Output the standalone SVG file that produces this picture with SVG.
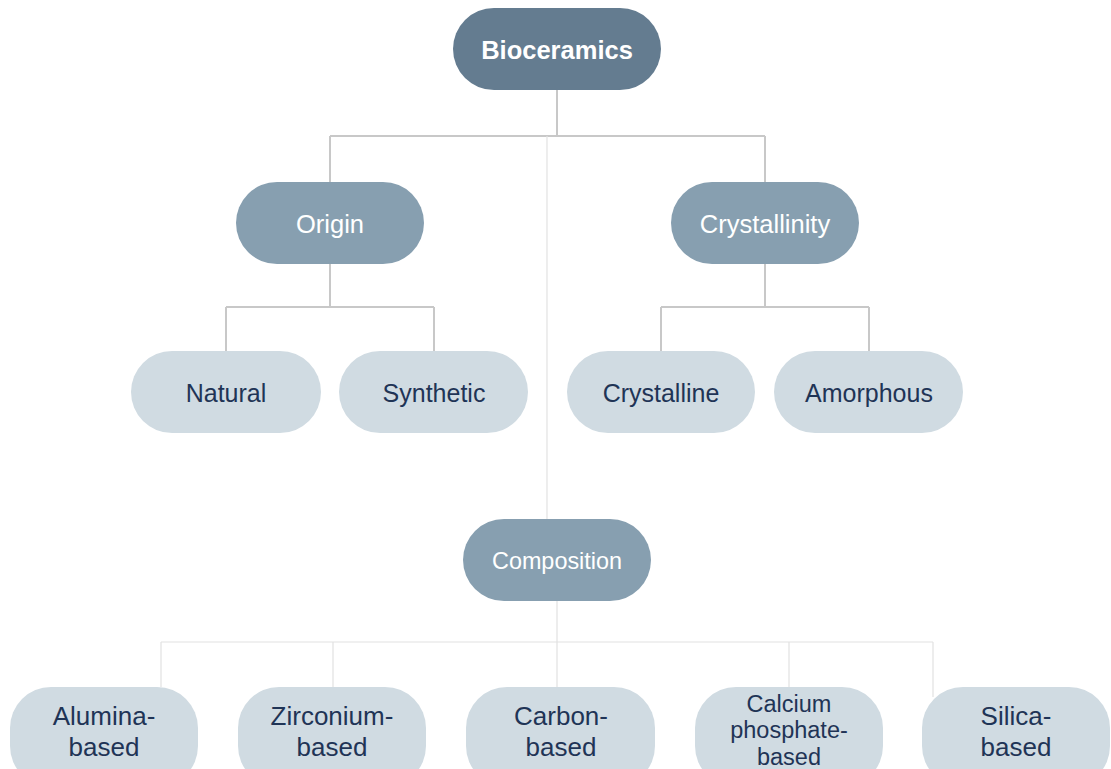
<svg xmlns="http://www.w3.org/2000/svg" width="1111" height="769" viewBox="0 0 1111 769">
<style>
.t{font-family:"Liberation Sans",Arial,sans-serif;text-anchor:middle}
.root{fill:#647c90}
.mid{fill:#879fb0}
.leaf{fill:#d0dbe2}
.w{fill:#ffffff}
.d{fill:#1f3456}
.c1{stroke:#c8c8c8;stroke-width:2;fill:none}
.c2{stroke:#e2e2e2;stroke-width:1.2;fill:none}
</style>
<rect width="1111" height="769" fill="#ffffff"/>
<g id="connectors">
<path class="c1" d="M557 90V136M330 136H765M330 136V182M765 136V182"/>
<path class="c1" d="M330 264V307M226 307H434M226 307V351M434 307V351"/>
<path class="c1" d="M765 264V307M661 307H869M661 307V351M869 307V351"/>
<path class="c2" d="M547 136V519"/>
<path class="c2" d="M557 601V642M161 642H933M161 642V687M333 642V687M557 642V687M789 642V687M933 642V697"/>
</g>
<g id="bioceramics"><rect class="root" x="453" y="8" width="208" height="82" rx="41"/><text class="t w" x="557" y="59" font-size="25.5" font-weight="bold">Bioceramics</text></g>
<g id="origin"><rect class="mid" x="236" y="182" width="188" height="82" rx="41"/><text class="t w" x="330" y="233" font-size="25.5">Origin</text></g>
<g id="crystallinity"><rect class="mid" x="671" y="182" width="188" height="82" rx="41"/><text class="t w" x="765" y="233" font-size="25.5">Crystallinity</text></g>
<g id="natural"><rect class="leaf" x="131" y="351" width="190" height="82" rx="41"/><text class="t d" x="226" y="402" font-size="25">Natural</text></g>
<g id="synthetic"><rect class="leaf" x="339" y="351" width="189" height="82" rx="41"/><text class="t d" x="434" y="402" font-size="25">Synthetic</text></g>
<g id="crystalline"><rect class="leaf" x="567" y="351" width="188" height="82" rx="41"/><text class="t d" x="661" y="402" font-size="25">Crystalline</text></g>
<g id="amorphous"><rect class="leaf" x="774" y="351" width="189" height="82" rx="41"/><text class="t d" x="869" y="402" font-size="25">Amorphous</text></g>
<g id="composition"><rect class="mid" x="463" y="519" width="188" height="82" rx="41"/><text class="t w" x="557" y="569" font-size="23.4">Composition</text></g>
<g id="alumina"><rect class="leaf" x="10" y="687" width="188" height="100" rx="41"/><text class="t d" font-size="26"><tspan x="104" y="725">Alumina-</tspan><tspan x="104" y="756">based</tspan></text></g>
<g id="zirconium"><rect class="leaf" x="238" y="687" width="188" height="100" rx="41"/><text class="t d" font-size="26"><tspan x="332" y="725">Zirconium-</tspan><tspan x="332" y="756">based</tspan></text></g>
<g id="carbon"><rect class="leaf" x="466" y="687" width="189" height="100" rx="41"/><text class="t d" font-size="26"><tspan x="561" y="725">Carbon-</tspan><tspan x="561" y="756">based</tspan></text></g>
<g id="calcium"><rect class="leaf" x="695" y="687" width="188" height="100" rx="41"/><text class="t d" font-size="23.5"><tspan x="789" y="712">Calcium</tspan><tspan x="789" y="738">phosphate-</tspan><tspan x="789" y="765">based</tspan></text></g>
<g id="silica"><rect class="leaf" x="922" y="687" width="188" height="100" rx="41"/><text class="t d" font-size="26"><tspan x="1016" y="725">Silica-</tspan><tspan x="1016" y="756">based</tspan></text></g>
</svg>
